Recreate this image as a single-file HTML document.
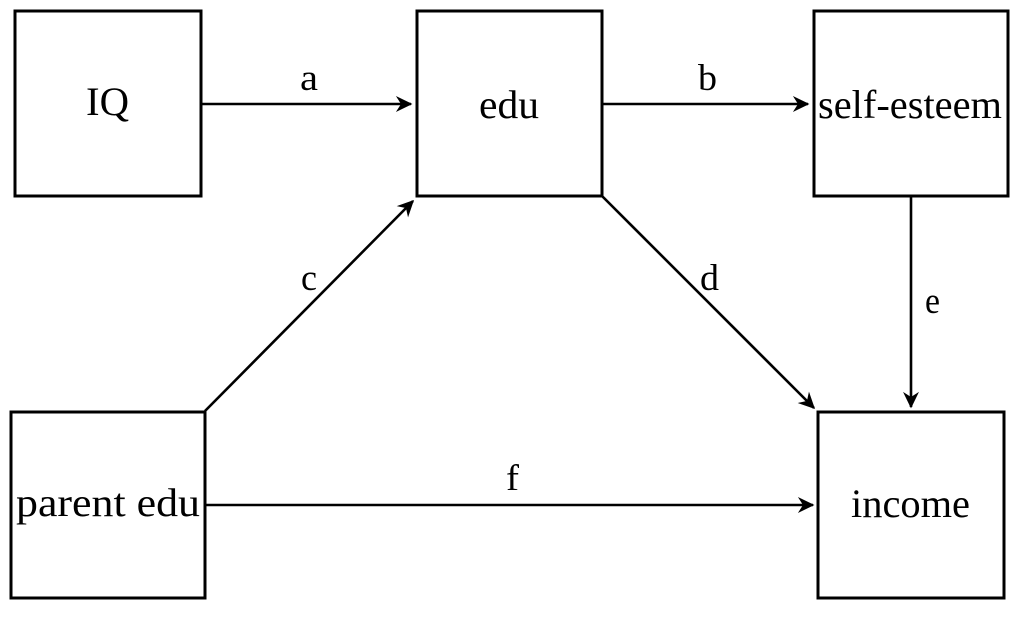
<!DOCTYPE html>
<html>
<head>
<meta charset="utf-8">
<style>
  html, body { margin: 0; padding: 0; background: #ffffff; }
  body { width: 1024px; height: 625px; overflow: hidden; }
  svg { display: block; }
  text { font-family: "Liberation Serif", "DejaVu Serif", serif; fill: #000; }
</style>
</head>
<body>
<svg width="1024" height="625" viewBox="0 0 1024 625" xmlns="http://www.w3.org/2000/svg">
  <defs>
    <marker id="ah" markerUnits="userSpaceOnUse" markerWidth="20" markerHeight="20" viewBox="-17 -10 20 20" refX="0" refY="0" orient="auto">
      <path d="M0.5,0 L-14,-7 L-9.5,0 L-14,7 Z" fill="#000" stroke="#000" stroke-width="0.8" stroke-linejoin="miter"/>
    </marker>
  </defs>

  <!-- boxes -->
  <g fill="none" stroke="#000" stroke-width="3">
    <rect x="15" y="11" width="186" height="185"/>
    <rect x="417" y="11" width="185" height="185"/>
    <rect x="814" y="11" width="194" height="185"/>
    <rect x="11" y="412" width="194" height="186"/>
    <rect x="818" y="412" width="186" height="186"/>
  </g>

  <!-- connectors -->
  <g stroke="#000" stroke-width="2.6" fill="none">
    <line x1="201" y1="104" x2="411" y2="104" marker-end="url(#ah)"/>
    <line x1="602" y1="104" x2="808" y2="104" marker-end="url(#ah)"/>
    <line x1="205" y1="411" x2="413" y2="201" marker-end="url(#ah)"/>
    <line x1="602" y1="196" x2="814" y2="408" marker-end="url(#ah)"/>
    <line x1="911" y1="196" x2="911" y2="407" marker-end="url(#ah)"/>
    <line x1="205" y1="505" x2="813" y2="505" marker-end="url(#ah)"/>
  </g>

  <!-- node labels -->
  <g font-size="40">
    <text x="86" y="115" textLength="43" lengthAdjust="spacingAndGlyphs">IQ</text>
    <text x="479" y="118" textLength="60" lengthAdjust="spacingAndGlyphs">edu</text>
    <text x="818" y="118" textLength="184" lengthAdjust="spacingAndGlyphs">self-esteem</text>
    <text x="16" y="516" textLength="184" lengthAdjust="spacingAndGlyphs">parent edu</text>
    <text x="851" y="517" textLength="119" lengthAdjust="spacingAndGlyphs">income</text>
  </g>

  <!-- edge labels -->
  <g font-size="37">
    <text x="300" y="90" textLength="18" lengthAdjust="spacingAndGlyphs">a</text>
    <text x="698" y="90" textLength="19" lengthAdjust="spacingAndGlyphs">b</text>
    <text x="301" y="290" textLength="16" lengthAdjust="spacingAndGlyphs">c</text>
    <text x="700" y="290" textLength="19" lengthAdjust="spacingAndGlyphs">d</text>
    <text x="925" y="313" textLength="15" lengthAdjust="spacingAndGlyphs">e</text>
    <text x="506" y="490" textLength="13" lengthAdjust="spacingAndGlyphs">f</text>
  </g>
</svg>
</body>
</html>
